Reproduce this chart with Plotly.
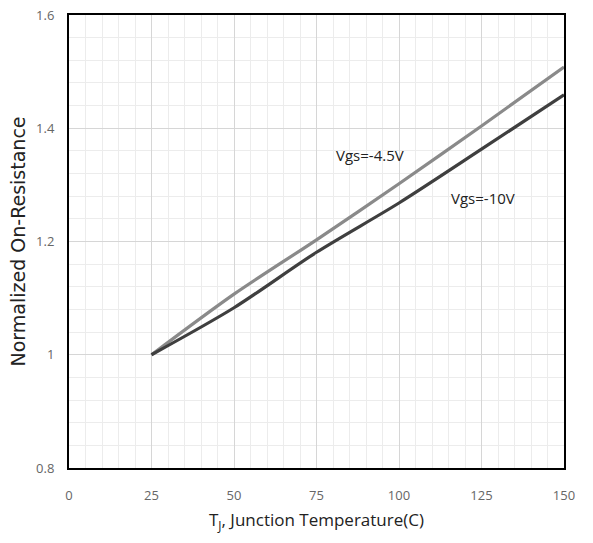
import plotly.graph_objects as go

temps = [25, 50, 75, 100, 125, 150]
r_45 = [1.0, 1.107, 1.203, 1.302, 1.404, 1.508]
r_10 = [1.0, 1.083, 1.181, 1.268, 1.363, 1.459]
label_45 = "Vgs=-4.5V"
label_10 = "Vgs=-10V"
x_ticks = [0, 25, 50, 75, 100, 125, 150]
y_ticks = [0.8, 1.0, 1.2, 1.4, 1.6]

fig = go.Figure()
fig.add_trace(go.Scatter(x=temps, y=r_45, mode="lines", line=dict(color="#8a8a8a", width=3.2, shape="spline", smoothing=0.8), showlegend=False))
fig.add_trace(go.Scatter(x=temps, y=r_10, mode="lines", line=dict(color="#3f3f3f", width=3.2, shape="spline", smoothing=0.8), showlegend=False))

fig.add_annotation(x=91.2, y=1.353, text=label_45, showarrow=False, font=dict(family="Open Sans", size=15, color="#222222"))
fig.add_annotation(x=125.5, y=1.277, text=label_10, showarrow=False, font=dict(family="Open Sans", size=15, color="#222222"))

fig.update_xaxes(range=[0, 150], tickvals=x_ticks, ticktext=[str(v) for v in x_ticks],
                 showline=True, mirror=True, linecolor="black", linewidth=2,
                 showgrid=True, gridcolor="#d6d6d6", gridwidth=1,
                 minor=dict(dtick=5, showgrid=True, gridcolor="#ececec", gridwidth=1),
                 zeroline=False, ticks="", ticklen=0, ticklabelstandoff=14, automargin=False,
                 tickfont=dict(family="Open Sans", size=13, color="#666666"),
                 title=dict(text="T<sub>J</sub>, Junction Temperature(C)", font=dict(family="Open Sans", size=17, color="#222222"), standoff=12))
fig.update_yaxes(range=[0.8, 1.6], tickvals=y_ticks, ticktext=["0.8", "1", "1.2", "1.4", "1.6"],
                 showline=True, mirror=True, linecolor="black", linewidth=2,
                 showgrid=True, gridcolor="#d6d6d6", gridwidth=1,
                 minor=dict(dtick=0.04, showgrid=True, gridcolor="#ececec", gridwidth=1),
                 zeroline=False, ticks="", ticklen=0, ticklabelstandoff=10, automargin=False,
                 tickfont=dict(family="Open Sans", size=13, color="#666666"),
                 title=dict(text="Normalized On-Resistance", font=dict(family="DejaVu Sans", size=19, color="#222222"), standoff=5))

fig.update_layout(width=593, height=543, margin=dict(l=69, r=29, t=15, b=75),
                  plot_bgcolor="white", paper_bgcolor="white")
fig.write_html("out.html")
